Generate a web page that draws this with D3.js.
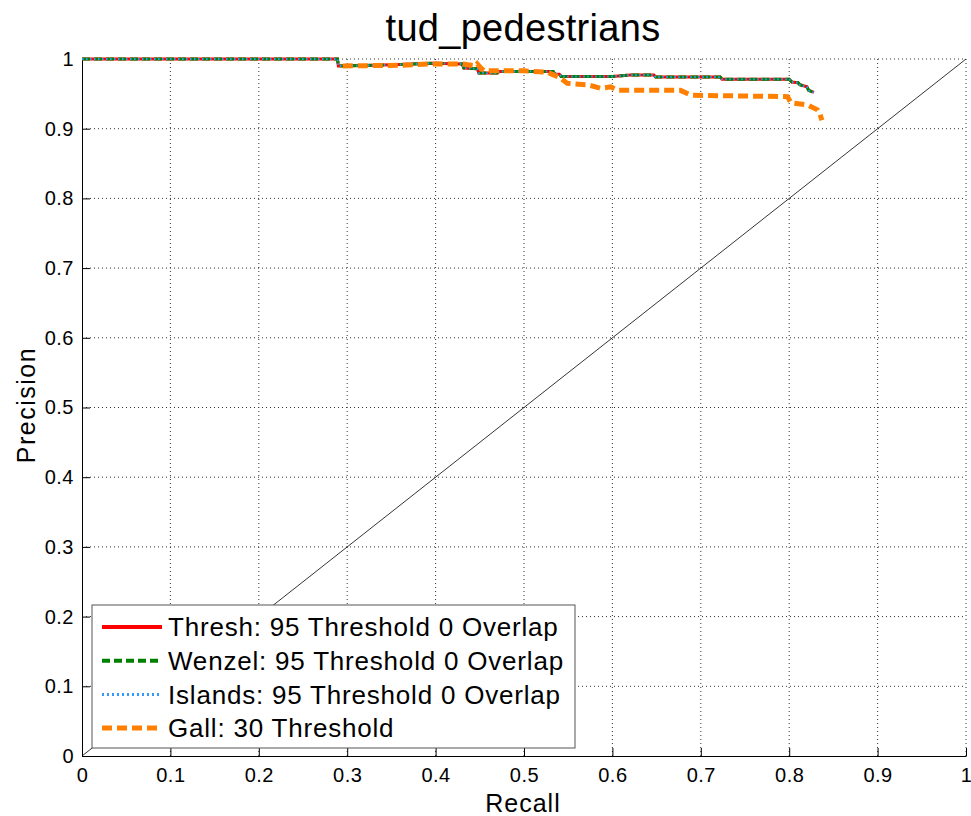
<!DOCTYPE html>
<html>
<head>
<meta charset="utf-8">
<script src="https://cdn.jsdelivr.net/npm/d3@7"></script>
<style>
  body { margin: 0; background: #fff; }
  svg text { font-family: "Liberation Sans", Arial, sans-serif; fill: #000; }
</style>
</head>
<body>
<svg id="chart" width="971" height="816"></svg>
<script>
// axis ticks
const xTicks = [0, 0.1, 0.2, 0.3, 0.4, 0.5, 0.6, 0.7, 0.8, 0.9, 1];
const yTicks = [0, 0.1, 0.2, 0.3, 0.4, 0.5, 0.6, 0.7, 0.8, 0.9, 1];

// Thresh / Wenzel / Islands lie almost on top of each other
const detRecall = [0, 0.289, 0.29, 0.33, 0.36, 0.397, 0.43, 0.432, 0.447, 0.449, 0.47, 0.472, 0.533, 0.535, 0.54, 0.542, 0.6, 0.62, 0.647, 0.649, 0.722, 0.724, 0.8, 0.803, 0.81, 0.812, 0.82, 0.822, 0.828];
const threshPrecision = [1, 1, 0.99, 0.991, 0.992, 0.994, 0.993, 0.987, 0.986, 0.98, 0.98, 0.982, 0.982, 0.978, 0.978, 0.975, 0.975, 0.977, 0.977, 0.974, 0.974, 0.971, 0.971, 0.967, 0.966, 0.963, 0.96, 0.955, 0.952];
const wenzelPrecision = threshPrecision;
const islandsPrecision = threshPrecision;

const gallRecall = [0.295, 0.36, 0.397, 0.43, 0.445, 0.447, 0.452, 0.455, 0.5, 0.527, 0.53, 0.541, 0.549, 0.572, 0.587, 0.598, 0.606, 0.677, 0.689, 0.798, 0.802, 0.821, 0.832, 0.835, 0.837];
const gallPrecision = [0.99, 0.991, 0.993, 0.993, 0.99, 0.993, 0.986, 0.983, 0.983, 0.981, 0.979, 0.973, 0.965, 0.963, 0.958, 0.96, 0.955, 0.955, 0.948, 0.946, 0.937, 0.934, 0.927, 0.92, 0.912];

const seriesNames = ["Thresh: 95 Threshold 0 Overlap", "Wenzel: 95 Threshold 0 Overlap", "Islands: 95 Threshold 0 Overlap", "Gall: 30 Threshold"];

const series = [
  {name: seriesNames[0], x: detRecall, y: threshPrecision, color: "#ff0000", width: 3, dash: null, legendWidth: 4, legendDash: null},
  {name: seriesNames[1], x: detRecall, y: wenzelPrecision, color: "#008000", width: 3, dash: "8,4", legendWidth: 4, legendDash: "8,4"},
  {name: seriesNames[2], x: detRecall, y: islandsPrecision, color: "#3399ff", width: 2, dash: "1.5,2.5", legendWidth: 3, legendDash: "2,3"},
  {name: seriesNames[3], x: gallRecall, y: gallPrecision, color: "#ff8000", width: 5, dash: "10,5", legendWidth: 5, legendDash: "10,5"}
];

const svg = d3.select("#chart");
const plotLeft = 82, plotRight = 966, plotTop = 59, plotBottom = 756;

const x = d3.scaleLinear().domain([0, 1]).range([plotLeft, plotRight]);
const y = d3.scaleLinear().domain([0, 1]).range([plotBottom, plotTop]);

// grid
const grid = svg.append("g");
grid.selectAll(".gx").data(xTicks.filter(d => d > 0)).join("line")
  .attr("x1", d => x(d)).attr("x2", d => x(d))
  .attr("y1", y(0)).attr("y2", y(1))
  .attr("stroke", "#333").attr("stroke-width", 1).attr("stroke-dasharray", "1,3");
grid.selectAll(".gy").data(yTicks.filter(d => d > 0)).join("line")
  .attr("x1", x(0)).attr("x2", x(1))
  .attr("y1", d => y(d)).attr("y2", d => y(d))
  .attr("stroke", "#333").attr("stroke-width", 1).attr("stroke-dasharray", "1,3");

// diagonal reference
svg.append("line")
  .attr("x1", x(0)).attr("y1", y(0)).attr("x2", x(1)).attr("y2", y(1))
  .attr("stroke", "#000").attr("stroke-width", 0.8);

// axes
const xAxis = svg.append("g").attr("transform", `translate(0,${plotBottom})`)
  .call(d3.axisBottom(x).tickValues(xTicks).tickFormat(d3.format("~g")).tickSizeInner(-8).tickSizeOuter(0).tickPadding(12));
const yAxis = svg.append("g").attr("transform", `translate(${plotLeft},0)`)
  .call(d3.axisLeft(y).tickValues(yTicks).tickFormat(d3.format("~g")).tickSizeInner(-8).tickSizeOuter(0).tickPadding(8));
[xAxis, yAxis].forEach(a => {
  a.selectAll("text").style("font-size", "20px").style("letter-spacing", "0.5px")
    .attr("font-family", "Liberation Sans, Arial, sans-serif");
  a.selectAll("path, line").attr("stroke", "#000");
});
xAxis.selectAll("text").attr("dy", "0.72em");

// curves
const line = d3.line();
series.forEach(s => {
  const pts = s.x.map((v, i) => [x(v), y(s.y[i])]);
  svg.append("path")
    .attr("d", line(pts))
    .attr("fill", "none")
    .attr("stroke", s.color)
    .attr("stroke-width", s.width)
    .attr("stroke-dasharray", s.dash)
    .attr("stroke-linejoin", "miter");
});

// legend
const lg = svg.append("g");
lg.append("rect")
  .attr("x", 92).attr("y", 605).attr("width", 483).attr("height", 143)
  .attr("fill", "#fff").attr("stroke", "#555").attr("stroke-width", 1);
series.forEach((s, i) => {
  const cy = 627 + i * 33.7;
  lg.append("line")
    .attr("x1", 102).attr("x2", 162).attr("y1", cy).attr("y2", cy)
    .attr("stroke", s.color).attr("stroke-width", s.legendWidth)
    .attr("stroke-dasharray", s.legendDash);
  lg.append("text")
    .attr("x", 168).attr("y", cy).attr("dy", "0.36em")
    .style("font-size", "26px").style("letter-spacing", "0.8px")
    .text(s.name);
});

// title and labels
svg.append("text").attr("x", 523).attr("y", 41).attr("text-anchor", "middle")
  .style("font-size", "38px").style("letter-spacing", "0.3px").text("tud_pedestrians");
svg.append("text").attr("x", 523).attr("y", 812).attr("text-anchor", "middle")
  .style("font-size", "25px").style("letter-spacing", "1px").text("Recall");
svg.append("text").attr("transform", "translate(35,405) rotate(-90)").attr("text-anchor", "middle")
  .style("font-size", "25px").style("letter-spacing", "1.5px").text("Precision");
</script>
</body>
</html>
